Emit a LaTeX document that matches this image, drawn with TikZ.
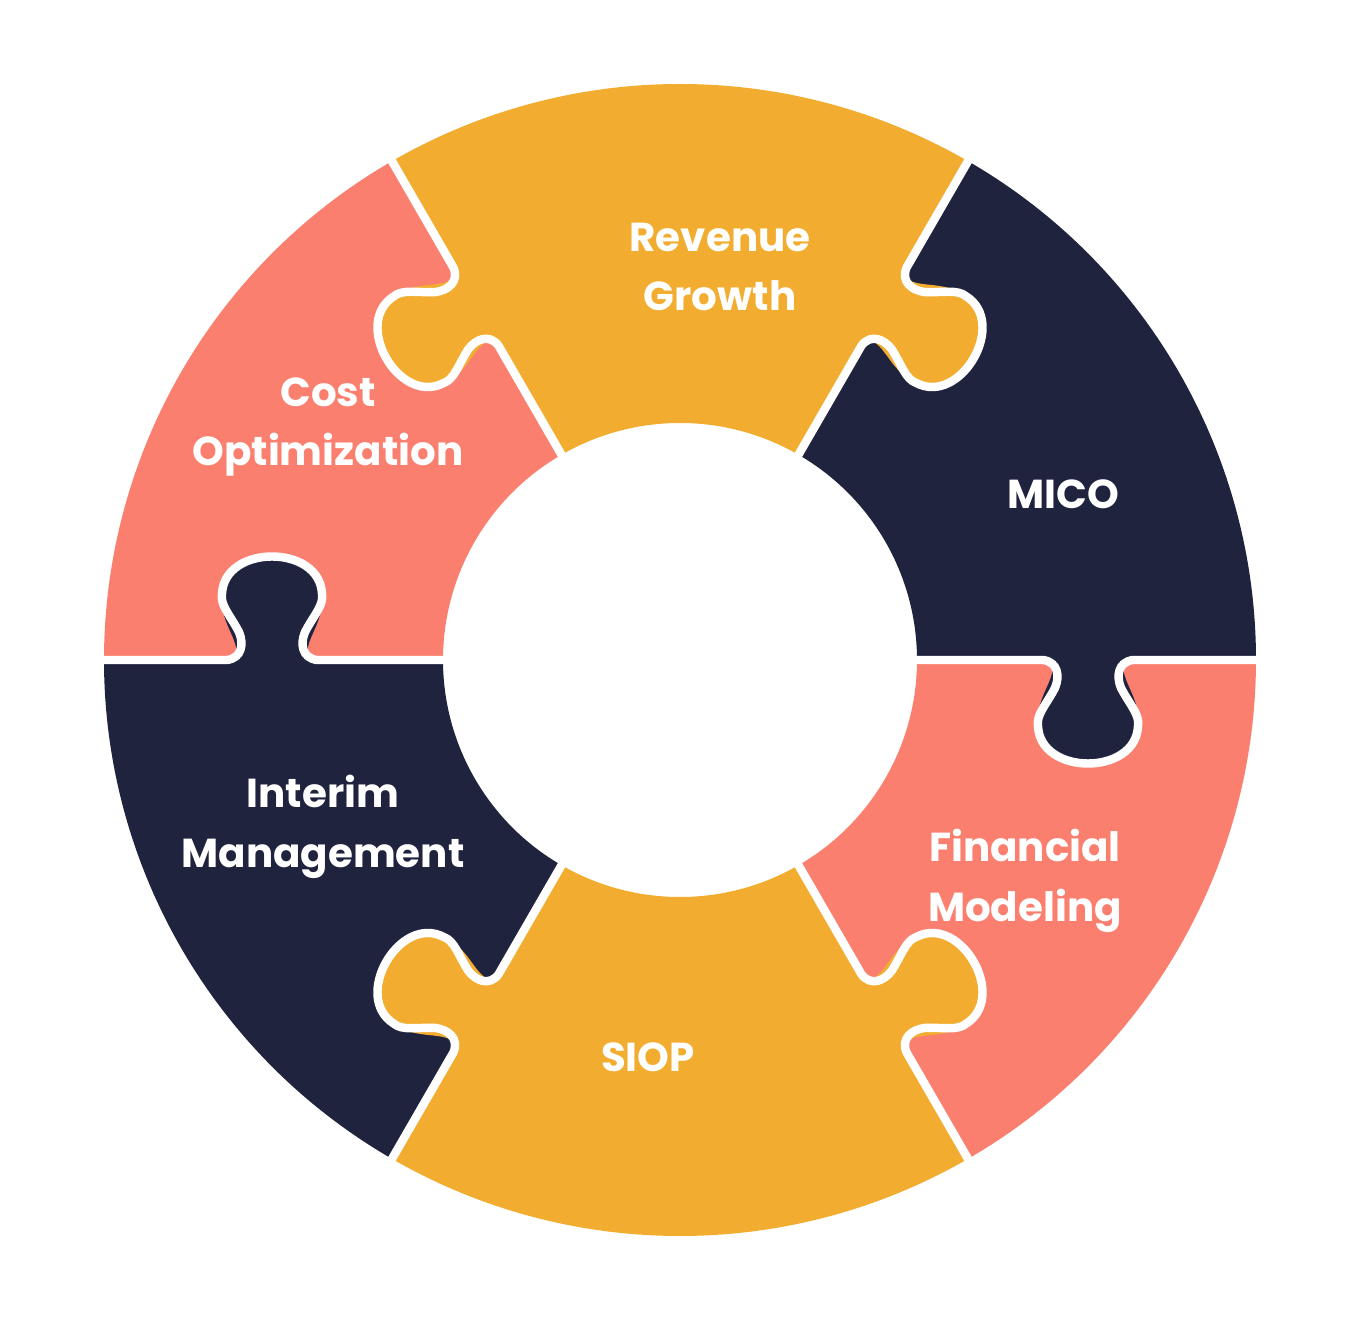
\documentclass[tikz,border=0pt]{standalone}
\usepackage{fontspec}
\setmainfont{Poppins}
\definecolor{cy}{HTML}{F2AD30}
\definecolor{cp}{HTML}{FA7F6E}
\definecolor{cd}{HTML}{1F233D}
\begin{document}
\begin{tikzpicture}
\useasboundingbox (-6.8,-6.6) rectangle (6.8,6.6);
\tikzset{
  sector/.style={fill=#1},
  seam/.style={draw=white,line width=2.4pt,line join=round,line cap=round},
  lbl/.style={text=white,font=\fontsize{11.5}{17}\selectfont\bfseries,align=center}
}
\def\Ro{5.76}\def\Ri{2.37}
\fill[cd] (0:\Ro) arc[start angle=0,end angle=60,radius=\Ro cm] -- (60:\Ri) arc[start angle=60,end angle=0,radius=\Ri cm] -- cycle;
\fill[cy] (60:\Ro) arc[start angle=60,end angle=120,radius=\Ro cm] -- (120:\Ri) arc[start angle=120,end angle=60,radius=\Ri cm] -- cycle;
\fill[cp] (120:\Ro) arc[start angle=120,end angle=180,radius=\Ro cm] -- (180:\Ri) arc[start angle=180,end angle=120,radius=\Ri cm] -- cycle;
\fill[cd] (180:\Ro) arc[start angle=180,end angle=240,radius=\Ro cm] -- (240:\Ri) arc[start angle=240,end angle=180,radius=\Ri cm] -- cycle;
\fill[cy] (240:\Ro) arc[start angle=240,end angle=300,radius=\Ro cm] -- (300:\Ri) arc[start angle=300,end angle=240,radius=\Ri cm] -- cycle;
\fill[cp] (300:\Ro) arc[start angle=300,end angle=360,radius=\Ro cm] -- (360:\Ri) arc[start angle=360,end angle=300,radius=\Ri cm] -- cycle;
% knobs: angle, side (1 = ccw, -1 = cw), colour
\foreach \a/\s/\c in {0/-1/cd, 60/-1/cy, 120/1/cy, 180/-1/cd, 240/-1/cy, 300/1/cy}{
  \begin{scope}[rotate=\a, yscale=\s, xshift=4.08cm]
    \fill[\c] (-0.38,-0.05) -- (-0.38,0) .. controls (-0.28,0.16) and (-0.52,0.35) .. (-0.50,0.62)
      .. controls (-0.48,1.16) and (0.48,1.16) .. (0.50,0.62)
      .. controls (0.52,0.35) and (0.28,0.16) .. (0.38,0) -- (0.38,-0.05) -- cycle;
    \draw[seam] (-2.0,0) -- (-0.45,0) .. controls (-0.30,0.02) and (-0.28,0.16) .. (-0.33,0.28)
      .. controls (-0.42,0.45) and (-0.52,0.55) .. (-0.50,0.66)
      .. controls (-0.48,1.16) and (0.48,1.16) .. (0.50,0.66)
      .. controls (0.52,0.55) and (0.42,0.45) .. (0.33,0.28)
      .. controls (0.28,0.16) and (0.30,0.02) .. (0.45,0) -- (2.0,0);
  \end{scope}
}
\node[lbl] (rg) at (0.40,3.93) {Revenue\\Growth};
\node[lbl] (co) at (-3.52,2.33) {Cost\\Optimization};
\node[lbl] (mi) at (3.83,1.66) {MICO};
\node[lbl] (fm) at (3.45,-2.21) {Financial\\Modeling};
\node[lbl] (si) at (-0.32,-3.97) {SIOP};
\node[lbl] (im) at (-3.57,-1.67) {Interim\\Management};
\end{tikzpicture}
\end{document}
